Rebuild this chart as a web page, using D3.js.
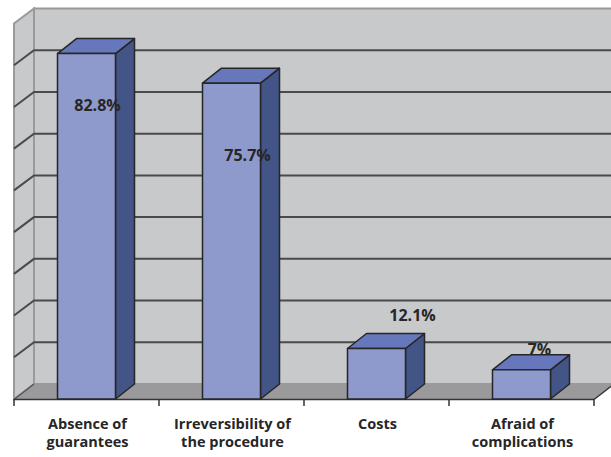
<!DOCTYPE html>
<html>
<head>
<meta charset="utf-8">
<script src="https://cdn.jsdelivr.net/npm/d3@7"></script>
<style>
  body { margin: 0; background: #fff; }
  text { font-family: "Open Sans", Lato, sans-serif; font-weight: bold; fill: #262626; }
</style>
</head>
<body>
<div id="chart"></div>
<script>
// data
var categories = [
    ["Absence of", "guarantees"],
    ["Irreversibility of", "the procedure"],
    ["Costs"],
    ["Afraid of", "complications"]
];
var values = [82.8, 75.7, 12.1, 7];
var valueLabels = ["82.8%", "75.7%", "12.1%", "7%"];
var yTicks = [0, 10, 20, 30, 40, 50, 60, 70, 80, 90];

// where the excel labels ended up, relative to the bar top / centre (px)
var labelShift = [[11, 57], [16, 78], [36, -28], [18, -15]];

var width = 611, height = 457;
var left = 14, right = 594, floorY = 399;
var depthX = 20, depthY = 15;      // 3d depth of the floor / walls
var barDX = 19, barDY = 15;        // 3d depth of the columns

var svg = d3.select("#chart").append("svg")
    .attr("width", width)
    .attr("height", height);

var x = d3.scaleBand()
    .domain(d3.range(categories.length))
    .range([left, right])
    .paddingInner(0.6)
    .paddingOuter(0.3);

var xEdges = d3.scaleLinear()
    .domain([0, categories.length])
    .range([left, right]);

var y = d3.scaleLinear()
    .domain([0, 90])
    .range([floorY, floorY - 375.5]);

var wallFill = "#c8c9cb", wallStroke = "#9a9a9a";

// back wall
svg.append("rect")
    .attr("x", left + depthX)
    .attr("y", y(90) - depthY)
    .attr("width", width - left - depthX + 5)
    .attr("height", y(0) - y(90))
    .attr("fill", wallFill)
    .attr("stroke", wallStroke)
    .attr("stroke-width", 2);

// side wall
var line = d3.line();
svg.append("path")
    .attr("d", line([[left, y(0)], [left + depthX, y(0) - depthY], [left + depthX, y(90) - depthY], [left, y(90)]]) + "Z")
    .attr("fill", wallFill)
    .attr("stroke", wallStroke)
    .attr("stroke-width", 2);

// gridlines on walls
var grid = yTicks.filter(function(d) { return d > 0 && d < 90; });
svg.selectAll(".grid")
    .data(grid)
    .enter().append("path")
    .attr("class", "grid")
    .attr("d", function(d) {
        return line([[left, y(d)], [left + depthX, y(d) - depthY], [width + 5, y(d) - depthY]]);
    })
    .attr("fill", "none")
    .attr("stroke", "#4a4a4c")
    .attr("stroke-width", 2);

// floor
svg.append("path")
    .attr("d", line([[left, y(0)], [right, y(0)], [right + depthX, y(0) - depthY], [left + depthX, y(0) - depthY]]) + "Z")
    .attr("fill", "#9a9a9c")
    .attr("stroke", "none");

svg.append("path")
    .attr("d", line([[left, y(0) + 0.5], [left + depthX, y(0) - depthY]]))
    .attr("stroke", "#555").attr("stroke-width", 1.5).attr("fill", "none");
svg.append("path")
    .attr("d", line([[right, y(0) + 0.5], [right + depthX, y(0) - depthY]]))
    .attr("stroke", "#333").attr("stroke-width", 1.5).attr("fill", "none");

// front axis line + ticks
svg.append("line")
    .attr("x1", left).attr("x2", right)
    .attr("y1", floorY + 0.5).attr("y2", floorY + 0.5)
    .attr("stroke", "#333").attr("stroke-width", 1.5);

svg.selectAll(".tick")
    .data(d3.range(categories.length + 1))
    .enter().append("line")
    .attr("class", "tick")
    .attr("x1", function(d) { return xEdges(d); })
    .attr("x2", function(d) { return xEdges(d); })
    .attr("y1", floorY)
    .attr("y2", floorY + 7)
    .attr("stroke", "#333")
    .attr("stroke-width", 1.5);

// columns
var bars = svg.selectAll(".bar")
    .data(values)
    .enter().append("g")
    .attr("class", "bar")
    .attr("stroke", "#262626")
    .attr("stroke-width", 1.5)
    .attr("stroke-linejoin", "round");

bars.append("path")   // side
    .attr("d", function(d, i) {
        var x1 = x(i) + x.bandwidth();
        return line([[x1, y(0)], [x1 + barDX, y(0) - barDY], [x1 + barDX, y(d) - barDY], [x1, y(d)]]) + "Z";
    })
    .attr("fill", "#435487");

bars.append("path")   // top
    .attr("d", function(d, i) {
        var x0 = x(i), x1 = x(i) + x.bandwidth();
        return line([[x0, y(d)], [x0 + barDX, y(d) - barDY], [x1 + barDX, y(d) - barDY], [x1, y(d)]]) + "Z";
    })
    .attr("fill", "#6677bb");

bars.append("rect")   // front
    .attr("x", function(d, i) { return x(i); })
    .attr("y", function(d) { return y(d); })
    .attr("width", x.bandwidth())
    .attr("height", function(d) { return y(0) - y(d); })
    .attr("fill", "#8e99cc");

// value labels
svg.selectAll(".val")
    .data(values)
    .enter().append("text")
    .attr("class", "val")
    .attr("x", function(d, i) { return x(i) + x.bandwidth() / 2 + labelShift[i][0]; })
    .attr("y", function(d, i) { return y(d) + labelShift[i][1]; })
    .attr("text-anchor", "middle")
    .style("font-size", "16px")
    .text(function(d, i) { return valueLabels[i]; });

// category labels
var cat = svg.selectAll(".cat")
    .data(categories)
    .enter().append("text")
    .attr("class", "cat")
    .attr("text-anchor", "middle")
    .style("font-size", "14.5px");

cat.selectAll("tspan")
    .data(function(d, i) { return d.map(function(t) { return { t: t, i: i }; }); })
    .enter().append("tspan")
    .attr("x", function(d) { return x(d.i) + x.bandwidth() / 2 + 1; })
    .attr("y", function(d, j) { return 429 + j * 18; })
    .text(function(d) { return d.t; });
</script>
</body>
</html>
